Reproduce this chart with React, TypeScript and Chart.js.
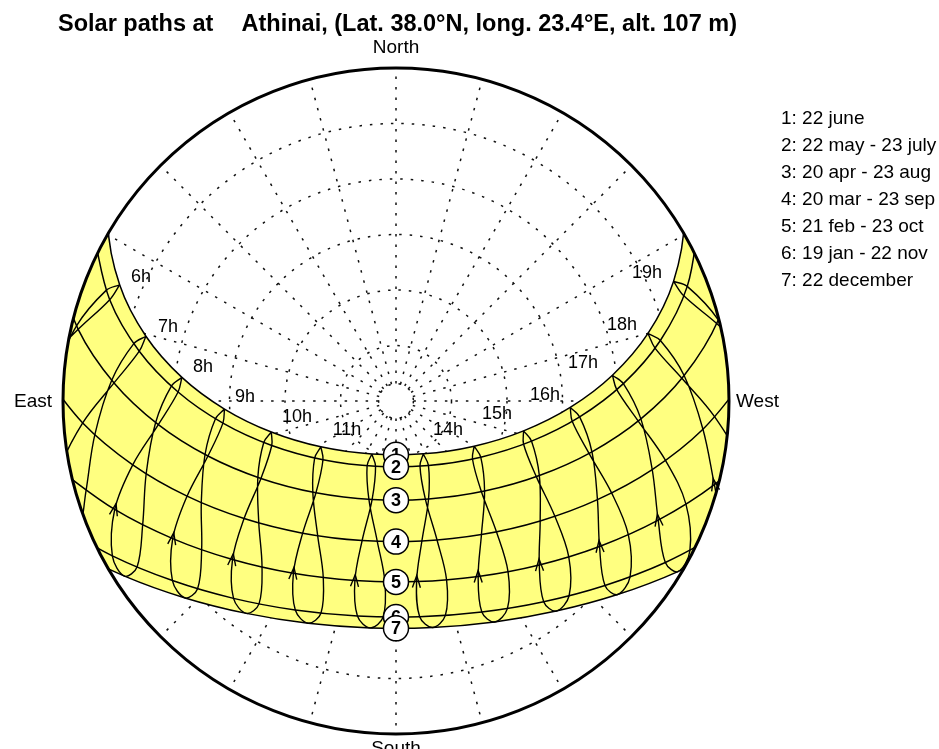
import React, { useEffect, useRef } from 'react';
import { Chart, registerables } from 'chart.js';

Chart.register(...registerables);

const FONT = '"Liberation Sans", Arial, Helvetica, sans-serif';

const TITLE_LEFT = 'Solar paths at';
const TITLE_RIGHT = 'Athinai, (Lat. 38.0°N, long. 23.4°E, alt. 107 m)';
const LEGEND_LINES = [
  '1: 22 june',
  '2: 22 may - 23 july',
  '3: 20 apr - 23 aug',
  '4: 20 mar - 23 sep',
  '5: 21 feb - 23 oct',
  '6: 19 jan - 22 nov',
  '7: 22 december',
];
const COMPASS_N = 'North';
const COMPASS_S = 'South';
const COMPASS_E = 'East';
const COMPASS_W = 'West';

// legal hours; every date array below is aligned to this list (null = not drawn)
const HOURS = [4, 5, 6, 7, 8, 9, 10, 11, 12, 13, 14, 15, 16, 17, 18, 19, 20, 21];

// sun azimuth (deg from North, through East) and altitude (deg) at each legal hour
const jun22Az = [48.24, 58.29, 67.2, 75.48, 83.7, 92.68, 103.96, 121.38, 155.51, 207.29, 239.98, 256.84, 267.9, 276.8, 285.01, 293.31, 302.28, 312.41];
const jun22Alt = [-11.0, -1.52, 8.98, 20.18, 31.79, 43.59, 55.28, 66.21, 74.24, 73.93, 65.6, 54.59, 42.88, 31.09, 19.49, 8.33, -2.12, -11.52];
const may22Az = [null, 61.45, 70.51, 79.02, 87.64, 97.29, 109.7, 128.81, 162.61, 206.71, 236.47, 253.5, 265.05, 274.36, 282.89, 291.48, 300.73, null];
const may22Alt = [null, -2.87, 7.92, 19.32, 31.05, 42.84, 54.33, 64.68, 71.51, 70.5, 62.52, 51.79, 40.18, 28.37, 16.7, 5.41, -5.2, null];
const jul23Az = [null, null, 69.11, 77.67, 86.22, 95.62, 107.41, 125.01, 155.94, 200.23, 232.82, 251.28, 263.41, 272.95, 281.54, 290.07, null, null];
const jul23Alt = [null, null, 6.15, 17.47, 29.16, 40.97, 52.54, 63.17, 70.84, 71.25, 64.06, 53.59, 42.06, 30.26, 18.55, 7.18, null, null];
const apr20Az = [null, 67.8, 77.29, 86.33, 95.67, 106.31, 119.83, 138.9, 166.36, 198.38, 224.52, 242.52, 255.46, 265.82, 275.06, 284.12, 293.75, null];
const apr20Alt = [null, -9.31, 1.95, 13.64, 25.45, 37.04, 47.92, 57.09, 62.6, 62.1, 55.86, 46.33, 35.29, 23.64, 11.83, 0.19, -10.98, null];
const aug23Az = [null, null, 76.77, 85.82, 95.12, 105.65, 118.94, 137.61, 164.59, 196.65, 223.28, 241.67, 254.81, 265.27, 274.55, 283.59, null, null];
const aug23Alt = [null, null, 1.3, 12.97, 24.78, 36.4, 47.33, 56.65, 62.44, 62.31, 56.32, 46.92, 35.94, 24.31, 12.5, 0.84, null, null];
const mar20Az = [null, null, 84.74, 94.01, 103.63, 114.49, 127.74, 144.77, 166.36, 190.48, 212.61, 230.24, 243.91, 255.01, 264.74, 274.01, null, null];
const mar20Alt = [null, null, -6.69, 5.12, 16.79, 27.95, 38.08, 46.27, 51.2, 51.53, 47.15, 39.31, 29.38, 18.31, 6.69, -5.12, null, null];
const sep23Az = [null, null, 87.1, 96.38, 106.23, 117.57, 131.64, 149.82, 172.39, 196.45, 217.52, 234.02, 246.91, 257.57, 267.1, 276.38, null, null];
const sep23Alt = [null, null, -3.7, 8.1, 19.68, 30.64, 40.38, 47.89, 51.75, 50.83, 45.43, 36.94, 26.66, 15.41, 3.7, -8.1, null, null];
const feb21Az = [null, null, null, 101.65, 111.09, 121.65, 134.12, 149.23, 167.1, 186.5, 205.1, 221.16, 234.45, 245.56, 255.28, 264.38, null, null];
const feb21Alt = [null, null, null, -2.81, 8.52, 19.11, 28.45, 35.79, 40.21, 40.88, 37.64, 31.16, 22.39, 12.16, 1.03, -10.59, null, null];
const oct23Az = [null, null, null, 106.15, 116.04, 127.43, 141.11, 157.62, 176.48, 195.79, 213.28, 227.95, 240.08, 250.42, 259.74, null, null, null];
const oct23Alt = [null, null, null, 2.78, 13.8, 23.85, 32.33, 38.37, 41.03, 39.76, 34.83, 27.12, 17.56, 6.83, -4.59, null, null, null];
const jan19Az = [null, null, null, 109.59, 118.63, 128.77, 140.54, 154.28, 169.83, 186.26, 202.14, 216.35, 228.57, 239.06, 248.31, null, null, null];
const jan19Alt = [null, null, null, -8.12, 2.66, 12.5, 20.91, 27.29, 30.95, 31.36, 28.45, 22.66, 14.67, 5.13, -5.47, null, null, null];
const nov22Az = [null, null, null, 113.23, 122.66, 133.41, 145.97, 160.52, 176.59, 192.97, 208.25, 221.63, 233.09, 243.0, 251.9, null, null, null];
const nov22Alt = [null, null, null, -3.57, 6.87, 16.18, 23.84, 29.17, 31.53, 30.54, 26.36, 19.58, 10.88, 0.85, -10.06, null, null, null];
const dec22Az = [null, 97.27, 105.47, 113.8, 122.82, 133.03, 144.84, 158.45, 173.54, 189.15, 204.03, 217.34, 228.85, 238.82, 247.68, 255.94, 264.19, null];
const dec22Alt = [null, -30.42, -18.84, -7.72, 2.69, 12.01, 19.79, 25.42, 28.29, 28.01, 24.62, 18.58, 10.49, 0.95, -9.6, -20.82, -32.46, null];

// day paths 1..7
const DAY_PATH_AZ = [jun22Az, may22Az, apr20Az, mar20Az, feb21Az, jan19Az, dec22Az];
const DAY_PATH_ALT = [jun22Alt, may22Alt, apr20Alt, mar20Alt, feb21Alt, jan19Alt, dec22Alt];
// dates through the year, for the hour (analemma) lines
const YEAR_AZ = [jun22Az, jul23Az, aug23Az, sep23Az, oct23Az, nov22Az, dec22Az, jan19Az, feb21Az, mar20Az, apr20Az, may22Az, jun22Az];
const YEAR_ALT = [jun22Alt, jul23Alt, aug23Alt, sep23Alt, oct23Alt, nov22Alt, dec22Alt, jan19Alt, feb21Alt, mar20Alt, apr20Alt, may22Alt, jun22Alt];
const HOUR_LINE_HOURS = [6, 7, 8, 9, 10, 11, 12, 13, 14, 15, 16, 17, 18, 19];
const ARROW_HOURS = [8, 9, 10, 11, 12, 13, 14, 15, 16, 17, 18];

// noon altitude of the numbered markers 1..7
const PATH_NOON_ALT = [75.44, 72.2, 63.2, 52.0, 41.1, 31.6, 28.56];

// hour labels and where they sit (azimuth / altitude)
const HOUR_LABELS = ['6h', '7h', '8h', '9h', '10h', '11h', '14h', '15h', '16h', '17h', '18h', '19h'];
const HOUR_LABEL_AZ = [64.07, 72.02, 80.0, 88.48, 99.17, 120.63, 240.84, 262.67, 272.3, 281.49, 288.59, 297.01];
const HOUR_LABEL_ALT = [13.36, 25.22, 37.04, 49.18, 62.9, 74.61, 73.91, 62.48, 49.7, 38.43, 25.56, 13.85];

// grid
const ALT_RINGS = [75, 60, 45, 30, 15];
const CENTER_RING_ALT = 85.3;
const AZ_LINES = [0, 15, 30, 45, 60, 75, 90, 105, 120, 135, 150, 165, 180, 195, 210, 225, 240, 255, 270, 285, 300, 315, 330, 345];

const DEG = Math.PI / 180;
function project(az: number | null, alt: number | null) {
  if (az == null || alt == null) return { x: null as any, y: null as any };
  const z = 90 - alt;
  return { x: -z * Math.sin(az * DEG), y: z * Math.cos(az * DEG) };
}
const hIdx = (h: number) => HOURS.indexOf(h);

function rowPoints(azs: (number | null)[], alts: (number | null)[]) {
  return azs.map((a, i) => project(a, alts[i])).filter((p) => p.x !== null);
}

const TENSION = 0.35;

function buildDatasets() {
  const ds: any[] = [];
  const band = [...rowPoints(jun22Az, jun22Alt), ...rowPoints(dec22Az, dec22Alt).reverse()];
  ds.push({
    data: band,
    showLine: true,
    fill: 'shape',
    backgroundColor: '#FFFF80',
    borderColor: 'rgba(0,0,0,0)',
    borderWidth: 1,
    pointRadius: 0,
    tension: TENSION,
    order: 2,
  });
  DAY_PATH_AZ.forEach((azs, k) => {
    ds.push({
      data: rowPoints(azs, DAY_PATH_ALT[k]),
      showLine: true,
      fill: false,
      borderColor: '#000',
      borderWidth: 1.5,
      pointRadius: 0,
      tension: TENSION,
      order: 0,
    });
  });
  HOUR_LINE_HOURS.forEach((h) => {
    const i = hIdx(h);
    ds.push({
      data: YEAR_AZ.map((arr, d) => project(arr[i], YEAR_ALT[d][i])),
      showLine: true,
      fill: false,
      borderColor: '#000',
      borderWidth: 1.4,
      pointRadius: 0,
      tension: TENSION,
      spanGaps: false,
      order: 1,
    });
  });
  return ds;
}

const sunPlugin = {
  id: 'sunDiagram',
  beforeDatasetsDraw(chart: any) {
    const { ctx } = chart;
    const xs = chart.scales.x;
    const ys = chart.scales.y;
    const cx = xs.getPixelForValue(0);
    const cy = ys.getPixelForValue(0);
    const R = xs.getPixelForValue(90) - cx;
    const px = (az: number, alt: number) => {
      const p = project(az, alt);
      return [xs.getPixelForValue(p.x), ys.getPixelForValue(p.y)];
    };
    ctx.save();
    ctx.strokeStyle = '#111';
    ctx.lineWidth = 1.5;
    ctx.setLineDash([2.5, 8]);
    [...ALT_RINGS, CENTER_RING_ALT].forEach((alt) => {
      const r = xs.getPixelForValue(90 - alt) - cx;
      ctx.beginPath();
      ctx.arc(cx, cy, r, 0, Math.PI * 2);
      ctx.stroke();
    });
    AZ_LINES.forEach((az) => {
      const [x0, y0] = px(az, CENTER_RING_ALT);
      const [x1, y1] = px(az, 0);
      ctx.beginPath();
      ctx.moveTo(x0, y0);
      ctx.lineTo(x1, y1);
      ctx.stroke();
    });
    ctx.restore();
    ctx.save();
    ctx.beginPath();
    ctx.arc(cx, cy, R, 0, Math.PI * 2);
    ctx.clip();
  },
  afterDatasetsDraw(chart: any) {
    const { ctx } = chart;
    ctx.restore();
    const xs = chart.scales.x;
    const ys = chart.scales.y;
    const cx = xs.getPixelForValue(0);
    const cy = ys.getPixelForValue(0);
    const R = xs.getPixelForValue(90) - cx;
    const px = (az: number, alt: number) => {
      const p = project(az, alt);
      return [xs.getPixelForValue(p.x), ys.getPixelForValue(p.y)];
    };

    // horizon circle
    ctx.save();
    ctx.strokeStyle = '#000';
    ctx.lineWidth = 3;
    ctx.beginPath();
    ctx.arc(cx, cy, R, 0, Math.PI * 2);
    ctx.stroke();
    ctx.restore();

    // arrows on hour lines (at 21 feb, pointing along the year)
    ctx.save();
    ctx.strokeStyle = '#000';
    ctx.lineWidth = 1.4;
    ARROW_HOURS.forEach((h) => {
      const i = hIdx(h);
      const [fx, fy] = px(feb21Az[i] as number, feb21Alt[i] as number);
      const [ax, ay] = px(jan19Az[i] as number, jan19Alt[i] as number);
      const [bx, by] = px(mar20Az[i] as number, mar20Alt[i] as number);
      let dx = bx - ax;
      let dy = by - ay;
      const L = Math.hypot(dx, dy) || 1;
      dx /= L;
      dy /= L;
      const tx = fx + dx * 6;
      const ty = fy + dy * 6;
      const nx = -dy;
      const ny = dx;
      ctx.beginPath();
      ctx.moveTo(tx - dx * 12 + nx * 4, ty - dy * 12 + ny * 4);
      ctx.lineTo(tx, ty);
      ctx.lineTo(tx - dx * 12 - nx * 4, ty - dy * 12 - ny * 4);
      ctx.stroke();
    });
    ctx.restore();

    // hour labels
    ctx.save();
    ctx.fillStyle = '#000';
    ctx.font = `18px ${FONT}`;
    ctx.textAlign = 'center';
    ctx.textBaseline = 'middle';
    HOUR_LABELS.forEach((t, i) => {
      const [x, y] = px(HOUR_LABEL_AZ[i], HOUR_LABEL_ALT[i]);
      ctx.fillText(t, x, y);
    });
    ctx.restore();

    // numbered markers
    ctx.save();
    PATH_NOON_ALT.forEach((alt, k) => {
      const [x, y] = px(180, alt);
      ctx.beginPath();
      ctx.arc(x, y, 12.5, 0, Math.PI * 2);
      ctx.fillStyle = '#fff';
      ctx.fill();
      ctx.lineWidth = 1.5;
      ctx.strokeStyle = '#000';
      ctx.stroke();
      ctx.fillStyle = '#000';
      ctx.font = `bold 18px ${FONT}`;
      ctx.textAlign = 'center';
      ctx.textBaseline = 'middle';
      ctx.fillText(String(k + 1), x, y + 1);
    });
    ctx.restore();

    // compass labels
    ctx.save();
    ctx.fillStyle = '#000';
    ctx.font = `19px ${FONT}`;
    ctx.textBaseline = 'middle';
    ctx.textAlign = 'center';
    ctx.fillText(COMPASS_N, cx, cy - R - 20);
    ctx.fillText(COMPASS_S, cx, cy + R + 15);
    ctx.textAlign = 'right';
    ctx.fillText(COMPASS_E, cx - R - 11, cy + 1);
    ctx.textAlign = 'left';
    ctx.fillText(COMPASS_W, cx + R + 7, cy + 1);
    ctx.restore();

    // title
    ctx.save();
    ctx.fillStyle = '#000';
    ctx.font = `bold 23.5px ${FONT}`;
    ctx.textBaseline = 'middle';
    ctx.textAlign = 'left';
    ctx.fillText(TITLE_LEFT, cx - R - 5, 25);
    ctx.textAlign = 'right';
    ctx.fillText(TITLE_RIGHT, cx + R + 8, 25);
    ctx.restore();

    // legend
    ctx.save();
    ctx.fillStyle = '#000';
    ctx.font = `19px ${FONT}`;
    ctx.textBaseline = 'middle';
    ctx.textAlign = 'left';
    LEGEND_LINES.forEach((t, i) => {
      ctx.fillText(t, cx + R + 52, 119 + i * 27);
    });
    ctx.restore();
  },
};

export default function App() {
  const ref = useRef<HTMLCanvasElement | null>(null);
  useEffect(() => {
    if (!ref.current) return;
    const chart = new Chart(ref.current, {
      type: 'scatter',
      data: { datasets: buildDatasets() },
      options: {
        responsive: false,
        animation: false,
        events: [],
        layout: { padding: { left: 63, right: 210, top: 68, bottom: 15 } },
        scales: {
          x: { type: 'linear', min: -90, max: 90, display: false },
          y: { type: 'linear', min: -90, max: 90, display: false },
        },
        elements: {
          point: { radius: 0, hoverRadius: 0 },
          line: { capBezierPoints: false },
        },
        plugins: {
          legend: { display: false },
          tooltip: { enabled: false },
          title: { display: false },
        },
      } as any,
      plugins: [sunPlugin as any],
    });
    return () => chart.destroy();
  }, []);
  return (
    <div style={{ position: 'absolute', left: 0, top: 0, width: 939, height: 749, background: '#fff' }}>
      <canvas ref={ref} width={939} height={749} style={{ display: 'block' }} />
    </div>
  );
}
